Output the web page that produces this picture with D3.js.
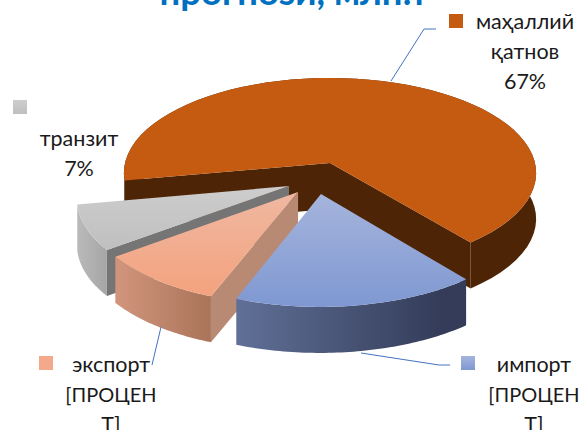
<!DOCTYPE html>
<html><head><meta charset="utf-8">
<style>html,body{margin:0;padding:0;background:#fff;overflow:hidden}svg{display:block}text{font-family:Lato,"Open Sans",sans-serif}</style>
<script src="https://cdnjs.cloudflare.com/ajax/libs/d3/7.8.5/d3.min.js"></script>
</head><body><svg id="c" width="580" height="430"></svg>
<script>
const categories=["маҳаллий қатнов","импорт","экспорт","транзит"];
const shareValues=[67,16.6,8.9,7.4];
const titleText="прогнози, млн.т";
const labelLines=[["маҳаллий","қатнов","67%"],["импорт","[ПРОЦЕН","Т]"],["экспорт","[ПРОЦЕН","Т]"],["транзит","7%"]];

const svg=d3.select("#c");
const cx=330,cy=163,rx=205,ry=94,k=0.105,depth=46;
const px=d3.scaleLinear().domain([0,1]).range([cx,cx+rx]);
const py=d3.scaleLinear().domain([0,1]).range([cy,cy+ry]);
const styles=[
 {ou:0,ov:0,top:["#C55A11","#C55A11"],wall:["#4D2405","#4D2405"],side:"#4D2405",wx:[300,535]},
 {ou:-0.0425,ov:-0.319,top:["#A5B4DC","#7F98D2"],wall:["#5F6F96","#343C59"],side:null,wx:[240,440]},
 {ou:-0.151,ov:-0.299,top:["#EFB8A2","#F4A27E"],wall:["#CF947B","#A87358"],side:"#B88A74",wx:[120,215]},
 {ou:-0.195,ov:-0.239,top:["#CDCDCD","#BFBFBF"],wall:["#B8B8B8","#A0A0A0"],side:"#757575",wx:[80,115]}
];
const pie=d3.pie().sort(null).startAngle(-100.5*Math.PI/180).endAngle(259.5*Math.PI/180);
const arcs=pie(shareValues);
function project(s,a,r){
  const u=s.ou+r*Math.sin(a),v=s.ov+r*Math.cos(a),w=1+k*v;
  return [px(u/w),py(-v/w)];
}
const line=d3.line();
const defs=svg.append("defs");
styles.forEach((s,i)=>{
  const t=defs.append("linearGradient").attr("id","t"+i).attr("x1",0).attr("x2",0).attr("y1",0).attr("y2",1);
  t.append("stop").attr("offset",0).attr("stop-color",s.top[0]);
  t.append("stop").attr("offset",1).attr("stop-color",s.top[1]);
  const w=defs.append("linearGradient").attr("id","w"+i).attr("gradientUnits","userSpaceOnUse")
    .attr("x1",s.wx[0]).attr("x2",s.wx[1]).attr("y1",0).attr("y2",0);
  w.append("stop").attr("offset",0).attr("stop-color",s.wall[0]);
  w.append("stop").attr("offset",1).attr("stop-color",s.wall[1]);
});
const down=p=>[p[0],p[1]+depth];
[0,3,2,1].forEach(i=>{
  const d=arcs[i],s=styles[i],g=svg.append("g");
  const as=d3.range(0,61).map(j=>d.startAngle+(d.endAngle-d.startAngle)*j/60);
  const rim=as.map(a=>project(s,a,1));
  const apex=project(s,0,0);
  if(i===0){
    const first=rim[0],last=rim[rim.length-1];
    g.append("path").attr("d",line([apex,first,down(first),down(apex)])+"Z").attr("fill",s.side);
    g.append("path").attr("d",line([apex,last,down(last),down(apex)])+"Z").attr("fill",s.side);
  } else if(s.side){
    const first=rim[0];
    g.append("path").attr("d",line([apex,first,down(first),down(apex)])+"Z").attr("fill",s.side);
  }
  g.append("path").attr("d",line(rim.concat(rim.slice().reverse().map(down)))+"Z").attr("fill",`url(#w${i})`);
  g.append("path").attr("d",line([apex].concat(rim))+"Z").attr("fill",`url(#t${i})`);
});
svg.append("text").attr("x",294).attr("y",5).attr("text-anchor","middle")
  .attr("font-size",36.5).attr("font-weight",700).attr("fill","#0070C0").text(titleText);
const leaders=[[[391,81],[424,29],[436,29]],[[361,353],[439,365],[450,365]],[[161,327],[152,365]]];
leaders.forEach(l=>svg.append("path").attr("d",line(l)).attr("fill","none").attr("stroke","#4472C4").attr("stroke-width",1));
const labelPos=[{sq:[449,14],x:525,y:[29,59,89]},{sq:[461,356],x:534,y:[372,402,432]},{sq:[39,356],x:111,y:[372,402,432]},{sq:[13,100],x:79,y:[146,176]}];
const swatch=["#C55A11","t1","#F4A98A","t3"];
labelPos.forEach((p,i)=>{
  svg.append("rect").attr("x",p.sq[0]).attr("y",p.sq[1]).attr("width",14).attr("height",14)
    .attr("fill",swatch[i].startsWith("#")?swatch[i]:`url(#${swatch[i]})`);
  labelLines[i].forEach((t,j)=>{
    svg.append("text").attr("x",p.x).attr("y",p.y[j]).attr("text-anchor","middle")
      .attr("font-size",t.startsWith("[")?20:21.5).attr("fill","#1a1a1a").text(t);
  });
});
</script></body></html>
